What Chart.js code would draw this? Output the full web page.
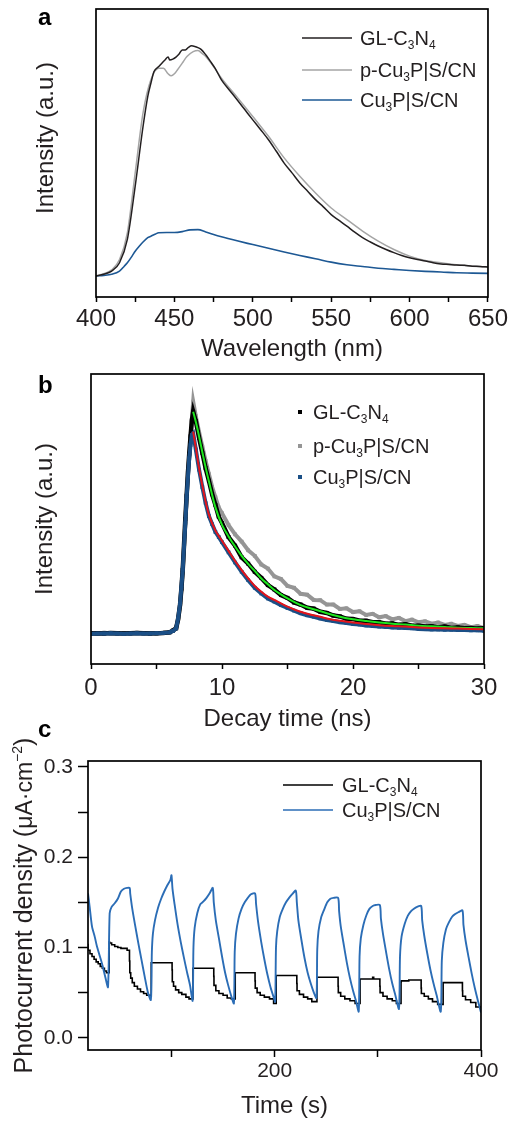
<!DOCTYPE html>
<html><head><meta charset="utf-8">
<script src="https://cdn.jsdelivr.net/npm/chart.js@4.4.1/dist/chart.umd.min.js"></script>
<style>
html,body{margin:0;padding:0;background:#fff;}
body{width:511px;height:1125px;position:relative;overflow:hidden;}
canvas{position:absolute;left:0;}
.lbl{position:absolute;font:bold 24px "Liberation Sans",Arial,sans-serif;line-height:24px;color:#000;}
</style></head><body>
<canvas id="ca" width="511" height="365" style="top:0px"></canvas>
<canvas id="cb" width="511" height="370" style="top:365px"></canvas>
<canvas id="cc" width="511" height="390" style="top:735px"></canvas>
<div class="lbl" style="left:38px;top:5px">a</div>
<div class="lbl" style="left:38px;top:373px">b</div>
<div class="lbl" style="left:38px;top:717px">c</div>
<script>
// ---------- Panel a: PL spectra ----------
const plWavelengthGL = [400,405,410,415,420,425,430,433,435,437,440,442,444,446,447,449,451,453,455,457,459,461,463,465,467,470,473,476,480,485,490,495,500,505,510,515,520,525,530,535,540,545,550,555,560,565,570,575,580,585,590,595,600,605,610,615,620,625,630,635,640,645,650];
const plIntensityGL = [7.3,7.9,9.0,11.9,20.0,38.5,59.2,69.6,74.2,78.3,80.0,81.2,82.3,83.3,82.3,82.6,83.3,84.4,85.8,85.8,86.7,87.2,87.0,86.6,86.0,84.1,81.8,79.4,75.4,71.9,68.5,65.0,61.5,58.1,54.6,50.6,46.5,43.1,39.6,36.7,33.8,31.3,28.6,26.6,24.6,22.5,20.6,19.1,17.7,16.5,15.4,14.4,13.6,13.0,12.5,11.9,11.5,11.3,11.1,11.0,10.7,10.6,10.4];
const plWavelengthP = [400,410,415,420,425,430,435,440,443,446,448,450,452,455,458,462,465,468,470,475,480,490,500,510,520,530,540,550,560,570,580,590,600,610,620,630,640,650];
const plIntensityP = [7.3,9.4,13.0,22.3,43.1,63.9,75.4,79.4,79.4,77.5,76.8,77.5,78.9,81.2,83.5,85.2,85.6,84.4,83.5,80.0,76.0,69.4,62.7,55.8,48.3,41.9,36.1,30.9,26.9,22.9,19.4,16.5,14.2,12.7,11.9,11.2,10.7,10.4];
const plWavelengthCu = [400,405,410,415,418,420,423,425,428,430,433,435,438,440,445,450,455,460,465,470,475,480,490,500,510,520,530,540,550,560,570,580,590,600,610,620,630,640,650];
const plIntensityCu = [7.3,7.5,7.9,9.0,10.7,11.9,14.2,15.9,17.9,19.1,20.6,21.1,21.9,22.3,22.4,22.4,22.7,23.3,23.4,22.6,21.7,20.9,19.5,18.2,16.9,15.6,14.4,13.3,12.1,11.2,10.6,10.0,9.6,9.2,8.9,8.7,8.4,8.3,8.2];
const plTicks = [400,450,500,550,600,650];

// ---------- Panel b: TRPL decay ----------
const decayTime = [0,0.5,1,1.5,2,2.5,3,3.5,4,4.5,5,5.5,6,6.25,6.5,6.65,6.8,6.9,7,7.1,7.2,7.3,7.4,7.5,7.6,7.7,7.8,8,8.25,8.5,8.75,9,9.25,9.5,9.75,10,10.5,11,11.5,12,12.5,13,13.5,14,14.5,15,15.5,16,16.5,17,17.5,18,18.5,19,19.5,20,20.5,21,21.5,22,22.5,23,23.5,24,24.5,25,25.5,26,26.5,27,27.5,28,28.5,29,29.5,30];
const decayGL = [10.5,10.6,10.5,10.7,10.6,10.5,10.6,10.7,10.6,10.5,10.6,10.7,10.9,
  11.5,12.3,15.5,20.5,26.0,
  32.4,41.0,50.0,58.0,66.0,72.5,78.5,84.0,87.0,
  83.8,78.0,72.8,67.5,63.2,58.5,54.8,50.8,48.6,
  43.8,40.8,36.8,34.6,31.8,29.7,27.2,25.7,23.8,22.8,21.2,20.5,19.4,19.1,18.0,17.6,16.7,16.4,15.6,15.5,14.9,14.9,14.4,14.4,13.9,14.0,13.5,13.7,13.2,13.2,12.9,13.0,12.6,12.9,12.4,12.6,12.3,12.4,12.2,12.3];
const decayP = [10.7,10.5,10.8,10.6,10.4,10.7,10.5,10.8,10.6,10.7,10.5,10.8,11.0,
  11.6,12.6,15.2,20.0,25.5,
  31.5,40.0,49.0,57.5,65.5,72.0,78.0,84.5,90.5,
  85.5,80.0,75.0,70.0,65.5,61.0,57.5,54.0,52.0,
  47.9,44.7,42.2,39.2,37.3,34.3,32.9,30.2,29.3,26.9,26.3,24.2,23.9,22.1,22.0,20.5,20.5,19.0,19.2,17.9,18.2,16.9,17.3,16.1,16.5,15.4,15.9,14.8,15.3,14.4,14.7,13.9,14.3,13.5,13.9,13.1,13.5,12.7,13.1,12.4];
const decayCu = [10.4,10.5,10.5,10.6,10.5,10.4,10.5,10.6,10.5,10.5,10.6,10.7,10.9,
  11.4,12.3,15.7,20.9,26.5,
  32.4,40.5,48.5,57.5,64.5,71.0,75.5,79.0,79.5,
  74.0,67.0,61.0,55.5,51.0,48.2,45.5,43.8,42.0,
  38.5,35.0,31.8,28.9,26.3,24.3,22.6,21.5,20.3,19.3,18.4,17.5,16.8,16.3,15.7,15.2,14.8,14.4,14.1,13.8,13.6,13.3,13.1,12.9,12.8,12.6,12.5,12.4,12.3,12.1,12.0,11.9,11.9,11.8,11.8,11.7,11.7,11.6,11.6,11.5];
const fitTime = [7.8,8,8.25,8.5,8.75,9,9.5,10,10.5,11,11.5,12,12.5,13,13.5,14,14.5,15,16,17,18,19,20,21,22,23,24,25,26,27,28,29,30];
const fitGL = [87.0,83.5,78.5,73.0,67.8,63.0,54.0,48.0,44.0,40.5,37.3,34.5,32.1,29.5,27.5,25.5,24.0,22.6,20.3,18.9,17.5,16.3,15.4,14.8,14.3,13.9,13.6,13.2,13.0,12.8,12.5,12.4,12.3];
const fitCu = [80.1,74.5,67.5,61.5,56.0,51.5,46.0,42.5,39.0,35.5,32.4,29.5,26.9,24.9,23.2,22.1,20.9,19.8,18.0,16.8,15.7,14.9,14.3,13.8,13.4,13.1,12.9,12.6,12.4,12.3,12.2,12.1,12.0];
const decayTicks = [0,10,20,30];

// ---------- Panel c: photocurrent ----------
const photoTimeCu = [19.1,20.7,23.0,25.6,27.8,32.7,35.9,38.5,
  40.1,42,45,48,51,54,57,59.5,
  60,62,65,68,71,74,77,80,
  81,82,84,87,90,93,96,99,100,
  101,103,106,109,112,115,118,120.5,
  121.3,122.5,125,128,131,134,137,140,
  141,143,146,149,152,155,158,160.5,
  161.3,162.5,165,168,171,174,177,181,
  182,184,187,190,193,196,199,200.5,
  201.3,202.5,205,208,211,214,217,220.5,
  221.5,223,226,229,232,235,238,240.5,
  241.3,242.5,245,248,251,254,257,261.5,
  262.5,264,267,270,273,276,279,281.5,
  282.3,283.5,286,289,292,295,298,302,
  303,305,308,311,314,317,320.5,
  321.5,323,326,329,332,335,338,342,
  343,345,348,351,354,357,361,
  362,363.5,366,369,372,375,378,382,
  383,385,388,391,394,397,400];
const photoCu = [0.160,0.145,0.123,0.112,0.101,0.082,0.067,0.056,
  0.138,0.145,0.149,0.154,0.162,0.165,0.166,0.166,
  0.160,0.143,0.123,0.104,0.086,0.068,0.051,0.042,
  0.095,0.115,0.130,0.144,0.154,0.162,0.169,0.175,0.180,
  0.165,0.148,0.125,0.106,0.089,0.073,0.058,0.041,
  0.100,0.122,0.138,0.148,0.151,0.155,0.160,0.166,
  0.150,0.130,0.110,0.090,0.072,0.058,0.046,0.038,
  0.095,0.115,0.132,0.143,0.150,0.155,0.159,0.160,
  0.148,0.128,0.106,0.087,0.070,0.056,0.045,0.040,
  0.100,0.118,0.134,0.143,0.150,0.155,0.159,0.163,
  0.150,0.130,0.108,0.088,0.072,0.060,0.050,0.044,
  0.098,0.118,0.133,0.142,0.150,0.154,0.155,0.155,
  0.140,0.124,0.103,0.083,0.066,0.052,0.040,0.029,
  0.090,0.110,0.125,0.136,0.143,0.146,0.147,0.147,
  0.132,0.115,0.095,0.076,0.060,0.047,0.032,
  0.090,0.112,0.126,0.135,0.140,0.143,0.145,0.146,
  0.130,0.113,0.093,0.075,0.060,0.047,0.029,
  0.085,0.105,0.120,0.128,0.134,0.137,0.139,0.141,
  0.125,0.108,0.089,0.071,0.055,0.041,0.028];
const photoTimeGL = [19.1,21,23,25,27,29,31,33,35,37,39.6,
  40,42,45,48,51,54,57,59.3,
  59.6,60.5,62,64,67,70,73,76,79,80.4,
  80.6,100.6,
  100.8,102,104,107,110,114,117,120.8,
  121,141,
  141.2,143,146,150,154,158,161.8,
  162,181,
  181.2,183,186,190,195,199,201.5,
  201.7,221.5,
  221.7,224,228,232,236,241,
  241.3,261.5,
  261.7,264,268,273,278,282.8,
  283,295,296,297,302,
  302.2,305,309,314,318,322.5,
  322.7,330,334,342,
  342.2,345,349,353,358,363.3,
  363.5,382,
  382.2,385,390,395,400];
const photoGL = [0.104,0.097,0.093,0.090,0.087,0.084,0.082,0.079,0.077,0.074,0.072,
  0.106,0.105,0.103,0.101,0.100,0.099,0.099,0.097,
  0.085,0.072,0.066,0.061,0.057,0.054,0.051,0.049,0.047,0.046,
  0.083,0.083,
  0.075,0.062,0.057,0.053,0.050,0.048,0.045,0.043,
  0.077,0.077,
  0.068,0.058,0.052,0.049,0.047,0.044,0.043,
  0.072,0.072,
  0.063,0.055,0.050,0.047,0.045,0.043,0.038,
  0.069,0.069,
  0.060,0.052,0.048,0.045,0.043,0.040,
  0.067,0.067,
  0.057,0.050,0.046,0.043,0.041,0.038,
  0.065,0.065,0.067,0.065,0.065,
  0.057,0.050,0.046,0.043,0.041,0.038,
  0.062,0.063,0.064,0.064,
  0.055,0.049,0.046,0.043,0.040,0.037,
  0.061,0.061,
  0.052,0.046,0.042,0.039,0.034];
const photoXTicks = [200,400];

// ---------- helpers ----------
const FONT = '"Liberation Sans", Arial, Helvetica, sans-serif';
const TXT = '#231f20';
Chart.defaults.font.family = FONT;
Chart.defaults.color = TXT;
const pts = (xs, ys) => xs.map((x, i) => ({x: x, y: ys[i]}));

function drawSubText(ctx, text, x, y, size) {
  const parts = text.split(/(\d+)/).filter(s => s.length);
  let cx = x;
  ctx.textAlign = 'left';
  ctx.textBaseline = 'alphabetic';
  ctx.fillStyle = TXT;
  for (const p of parts) {
    const sub = /^\d+$/.test(p);
    ctx.font = (sub ? Math.round(size * 0.62) : size) + 'px ' + FONT;
    ctx.fillText(p, cx, y + (sub ? size * 0.2 : 0));
    cx += ctx.measureText(p).width;
  }
}

function drawVTitle(ctx, parts, cx, cy) {
  let w = 0;
  parts.forEach(p => { ctx.font = p.s + 'px ' + FONT; p.w = ctx.measureText(p.t).width; w += p.w; });
  ctx.save();
  ctx.translate(cx, cy);
  ctx.rotate(-Math.PI / 2);
  ctx.fillStyle = TXT;
  ctx.textAlign = 'left';
  ctx.textBaseline = 'alphabetic';
  let x = -w / 2;
  parts.forEach(p => { ctx.font = p.s + 'px ' + FONT; ctx.fillText(p.t, x, 8.6 + (p.dy || 0)); x += p.w; });
  ctx.restore();
}

function makeOverlay(legend) {
  return {
    id: 'overlay',
    afterDraw(chart) {
      const {ctx, chartArea: a} = chart;
      ctx.save();
      ctx.strokeStyle = '#000';
      ctx.lineWidth = 1.7;
      ctx.strokeRect(a.left, a.top, a.right - a.left, a.bottom - a.top);
      chart.data.datasets.forEach((ds, i) => {
        const L = legend.rows[i];
        if (!L) return;
        if (legend.kind === 'line') {
          ctx.strokeStyle = ds.borderColor;
          ctx.lineWidth = 1.7;
          ctx.beginPath();
          ctx.moveTo(legend.x0, L.y); ctx.lineTo(legend.x1, L.y);
          ctx.stroke();
        } else {
          ctx.fillStyle = ds.pointBackgroundColor;
          ctx.fillRect(legend.x0 - 2, L.y - 2, 4, 4);
        }
        drawSubText(ctx, ds.label, legend.tx, L.y + 7, legend.size);
      });
      if (legend.extra) legend.extra(ctx, a);
      ctx.restore();
    }
  };
}

const tickGrid = (len) => ({display: true, drawOnChartArea: false, drawTicks: true, tickLength: len, tickColor: '#000', tickWidth: 1.5});

// ---------- Chart a ----------
new Chart(document.getElementById('ca'), {
  type: 'line',
  data: {datasets: [
    {label: 'GL-C3N4', data: pts(plWavelengthGL, plIntensityGL), borderColor: '#231f20', borderWidth: 1.5, order: 1},
    {label: 'p-Cu3P|S/CN', data: pts(plWavelengthP, plIntensityP), borderColor: '#a5a5a5', borderWidth: 1.5, order: 2},
    {label: 'Cu3P|S/CN', data: pts(plWavelengthCu, plIntensityCu), borderColor: '#1d5894', borderWidth: 1.6, order: 3}
  ]},
  options: {
    responsive: false, animation: false, devicePixelRatio: 1,
    layout: {padding: {top: 9, right: 22, left: 0, bottom: 0}},
    elements: {point: {radius: 0}, line: {cubicInterpolationMode: 'monotone'}},
    plugins: {legend: {display: false}, tooltip: {enabled: false}},
    scales: {
      x: {type: 'linear', min: 400, max: 650,
        ticks: {stepSize: 25, padding: 3, autoSkip: false, maxRotation: 0, font: {size: 24}, color: TXT,
          callback: v => plTicks.includes(v) ? String(v) : ''},
        grid: tickGrid(5), border: {display: false},
        title: {display: true, text: 'Wavelength (nm)', font: {size: 24}, color: TXT, padding: {top: 0, bottom: 1}},
        afterFit: s => { s.height = 68; }},
      y: {min: 0, max: 100, ticks: {display: false}, grid: {display: false}, border: {display: false},
        title: {display: false},
        afterFit: s => { s.width = 96; }}
    }
  },
  plugins: [makeOverlay({kind: 'line', x0: 302, x1: 352, tx: 360, size: 20, rows: [{y: 38}, {y: 70}, {y: 100}],
    extra: (ctx) => drawVTitle(ctx, [{t: 'Intensity (a.u.)', s: 24}], 44.5, 138)})]
});

// ---------- Chart b ----------
const dotDs = (label, ys, color, order, lw, r) => ({
  label, data: pts(decayTime, ys), borderColor: color, backgroundColor: color, pointBackgroundColor: color,
  borderWidth: lw, pointStyle: 'rect', pointRadius: r, pointBorderWidth: 0, order, showLine: true, tension: 0
});
new Chart(document.getElementById('cb'), {
  type: 'line',
  data: {datasets: [
    dotDs('GL-C3N4', decayGL, '#000000', 4, 4.5, 2.8),
    dotDs('p-Cu3P|S/CN', decayP, '#959595', 5, 4, 2.6),
    dotDs('Cu3P|S/CN', decayCu, '#1b4f86', 3, 4, 2.6),
    {label: 'fitGL', data: pts(fitTime, fitGL), borderColor: '#1ee61e', borderWidth: 2, pointRadius: 0, order: 2, cubicInterpolationMode: 'monotone'},
    {label: 'fitCu', data: pts(fitTime, fitCu), borderColor: '#e3141b', borderWidth: 2, pointRadius: 0, order: 1, cubicInterpolationMode: 'monotone'}
  ]},
  options: {
    responsive: false, animation: false, devicePixelRatio: 1,
    layout: {padding: {top: 9, right: 27, left: 0, bottom: 0}},
    plugins: {legend: {display: false}, tooltip: {enabled: false}},
    scales: {
      x: {type: 'linear', min: 0, max: 30,
        ticks: {stepSize: 5, padding: 5, autoSkip: false, maxRotation: 0, font: {size: 24}, color: TXT,
          callback: v => decayTicks.includes(v) ? String(v) : ''},
        grid: tickGrid(5), border: {display: false},
        title: {display: true, text: 'Decay time (ns)', font: {size: 24}, color: TXT, padding: {top: 0, bottom: 1}},
        afterFit: s => { s.height = 71; }},
      y: {min: 0, max: 100, ticks: {display: false}, grid: {display: false}, border: {display: false},
        title: {display: true, text: 'Intensity (a.u.)', font: {size: 24}, color: TXT, padding: {top: 31, bottom: 0}},
        afterFit: s => { s.width = 91; }}
    }
  },
  plugins: [makeOverlay({kind: 'rect', x0: 300, tx: 313, size: 20, rows: [{y: 47}, {y: 81}, {y: 112}]})]
});

// ---------- Chart c ----------
new Chart(document.getElementById('cc'), {
  type: 'line',
  data: {datasets: [
    {label: 'GL-C3N4', data: pts(photoTimeGL, photoGL), borderColor: '#000000', borderWidth: 1.6, pointRadius: 0, stepped: 'after', order: 2},
    {label: 'Cu3P|S/CN', data: pts(photoTimeCu, photoCu), borderColor: '#2b6db6', borderWidth: 1.9, pointRadius: 0, tension: 0.25, order: 1}
  ]},
  options: {
    responsive: false, animation: false, devicePixelRatio: 1,
    layout: {padding: {top: 26, right: 30, left: 0, bottom: 0}},
    plugins: {legend: {display: false}, tooltip: {enabled: false}},
    scales: {
      x: {type: 'linear', min: 19.1, max: 400,
        ticks: {stepSize: 100, includeBounds: false, padding: 2, autoSkip: false, maxRotation: 0, font: {size: 21}, color: TXT,
          callback: v => photoXTicks.includes(v) ? String(v) : ''},
        grid: tickGrid(7), border: {display: false},
        title: {display: true, text: 'Time (s)', font: {size: 24}, color: TXT, padding: {top: 0, bottom: 4}},
        afterFit: s => { s.height = 75; }},
      y: {min: -0.0136, max: 0.3066,
        ticks: {stepSize: 0.05, includeBounds: false, padding: 5, autoSkip: false, font: {size: 21}, color: TXT,
          callback: v => { const r = Math.round(v * 20); return (r % 2 === 0) ? (r / 20).toFixed(1) : ''; }},
        grid: tickGrid(10), border: {display: false},
        title: {display: false},
        afterFit: s => { s.width = 88; }}
    }
  },
  plugins: [makeOverlay({kind: 'line', x0: 283, x1: 333, tx: 342, size: 20, rows: [{y: 50}, {y: 75}],
    extra: (ctx, a) => drawVTitle(ctx, [
      {t: 'Photocurrent density (', s: 25},
      {t: 'μA·cm', s: 23},
      {t: '−2', s: 14, dy: -10},
      {t: ')', s: 25}
    ], 23, (a.top + a.bottom) / 2)})]
});
</script>
</body></html>
